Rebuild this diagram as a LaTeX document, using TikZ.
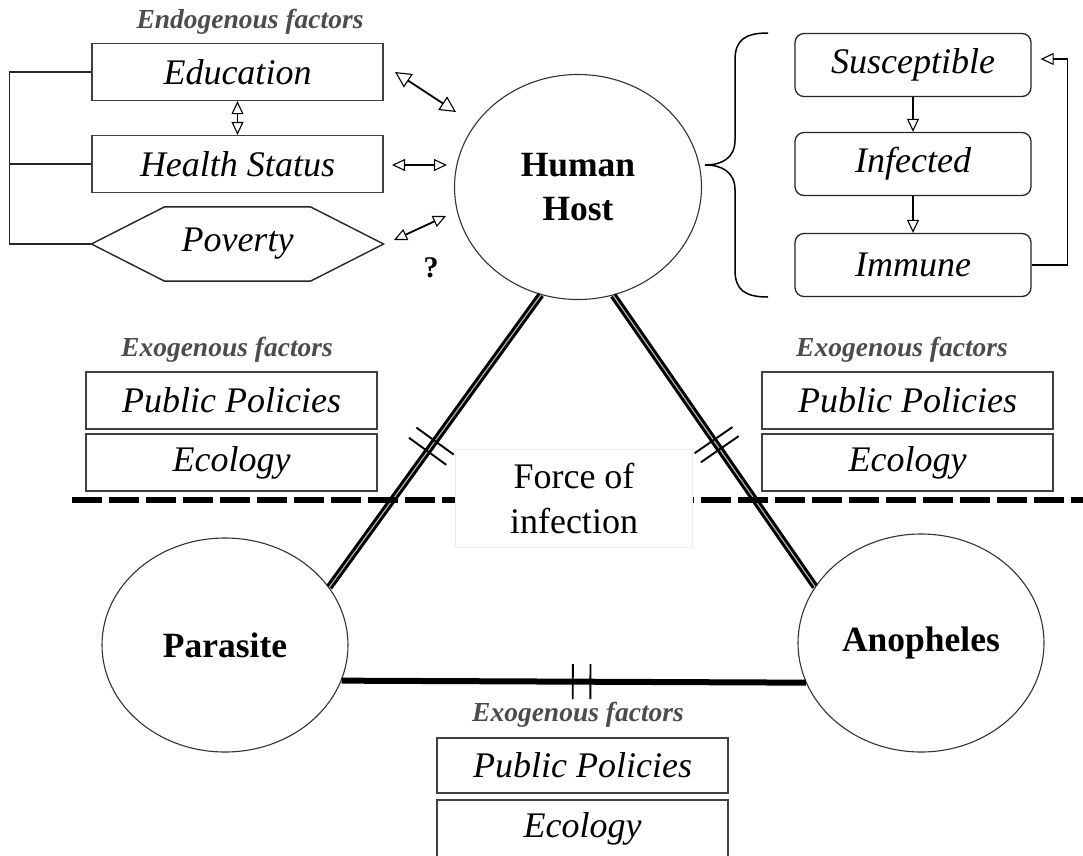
\documentclass[tikz,border=0pt]{standalone}
\usepackage{fontspec}
\setmainfont{Liberation Serif}
\usetikzlibrary{arrows.meta,shapes.geometric,calc}
\tikzset{
  otip/.tip={Triangle[fill=white,length=13pt,width=12pt,line width=1.1pt]},
  btip/.tip={Triangle[fill=white,length=16pt,width=16pt,line width=1.1pt]},
  fbox/.style={draw=black!75, line width=1.2pt, rectangle, minimum width=291pt, minimum height=57pt, inner sep=0pt, font=\fontsize{36}{40}\selectfont\itshape},
  sirbox/.style={draw=black!85, line width=1.3pt, rounded corners=9pt, minimum width=236pt, minimum height=63pt, inner sep=0pt, font=\fontsize{36}{40}\selectfont\itshape},
  lbl/.style={font=\fontsize{27.5}{30}\selectfont\bfseries\itshape, text=black!70},
  agent/.style={ellipse, draw=black!80, line width=1.1pt, inner sep=0pt, font=\fontsize{35.5}{44}\selectfont\bfseries, align=center},
  dblarrow/.style={line width=1.8pt, otip-otip},
  bigarrow/.style={line width=1.8pt, btip-btip},
  sarrow/.style={line width=1.5pt, -otip},
  brk/.style={line width=1.4pt, black!85},
  tri/.style={line width=3pt, double=black!30, double distance=1.2pt},
  tk/.style={line width=1.9pt},
}
\begin{document}
\begin{tikzpicture}[x=1pt,y=-1pt]
\clip (0,0) rectangle (1083,855);
\fill[white] (0,0) rectangle (1083,855);

% endogenous factors
\node[lbl] (endo) at (250,22) {Endogenous factors};
\node[fbox] (edu) at (237.5,72) {Education};
\node[fbox] (hs) at (237.5,164) {Health Status};
\node[fbox, draw=none, minimum height=73pt] (pov) at (237.5,244) {Poverty};
\draw[line width=1.4pt, draw=black!85] (pov.west) -- ([xshift=73pt]pov.north west) -- ([xshift=-73pt]pov.north east) -- (pov.east) -- ([xshift=-73pt]pov.south east) -- ([xshift=73pt]pov.south west) -- cycle;
\draw[brk] (edu.west) -- ++(-82,0) |- (pov.west);
\draw[brk] (hs.west) -- ++(-82,0);
\draw[dblarrow] (edu.south) -- (hs.north);

% human host
\node[agent, minimum width=247pt, minimum height=225pt] (host) at (578,187) {Human\\Host};
\coordinate (e1) at (395,72); \coordinate (e2) at (456,112);
\coordinate (h1) at (392,165); \coordinate (h2) at (447,165);
\coordinate (p1) at (394,240); \coordinate (p2) at (446,216);
\draw[bigarrow] (e1) -- (e2);
\draw[dblarrow] (h1) -- (h2);
\draw[dblarrow] (p1) -- (p2);
\node[font=\fontsize{30}{32}\selectfont\bfseries] (q) at (431,268) {?};

% SIR
\node[sirbox] (sus) at (913,65) {Susceptible};
\node[sirbox] (inf) at (913,164) {Infected};
\node[sirbox] (imm) at (913,265) {Immune};
\draw[sarrow] (sus) -- (inf);
\draw[sarrow] (inf) -- (imm);
\draw[sarrow] (imm.east) -- ++(36,0) |- ([xshift=9pt,yshift=6pt]sus.east);
\draw[line width=1.5pt] (768,33) .. controls (745,33) and (735,40) .. (735,60) -- (735,140) .. controls (735,158) and (722,165) .. (705,165) .. controls (722,165) and (735,172) .. (735,190) -- (735,270) .. controls (735,290) and (745,297) .. (768,297);

% parasite / anopheles
\node[agent, minimum width=246pt, minimum height=214pt] (par) at (225,645) {Parasite};
\node[agent, minimum width=246pt, minimum height=218pt] (ano) at (921,643) {Anopheles};

% triangle
\draw[tri] (host.-109.9) -- coordinate[pos=.50](lt1) coordinate[pos=.535](lt2) (par.29);
\draw[tri] (host.-72.5) -- coordinate[pos=.497](rt1) coordinate[pos=.528](rt2) (ano.152.4);
\draw[line width=6pt] (par.-17.8) -- coordinate[pos=.498](bt1) coordinate[pos=.536](bt2) (ano.199);
\draw[tk] ($(lt1)!23pt!90:(par.29)$) -- ($(lt1)!23pt!-90:(par.29)$);
\draw[tk] ($(lt2)!23pt!90:(par.29)$) -- ($(lt2)!23pt!-90:(par.29)$);
\draw[tk] ($(rt1)!23pt!90:(ano.152.4)$) -- ($(rt1)!23pt!-90:(ano.152.4)$);
\draw[tk] ($(rt2)!23pt!90:(ano.152.4)$) -- ($(rt2)!23pt!-90:(ano.152.4)$);
\draw[tk] ($(bt1)!17.5pt!90:(ano.199)$) -- ($(bt1)!17.5pt!-90:(ano.199)$);
\draw[tk] ($(bt2)!17.5pt!90:(ano.199)$) -- ($(bt2)!17.5pt!-90:(ano.199)$);

% dashed line and force of infection
\draw[line width=6pt, dash pattern=on 30pt off 7pt] (72,500) -- (1083,500);
\node[draw=black!8, fill=white, minimum width=237pt, minimum height=98pt, align=center, font=\fontsize{36}{45}\selectfont] (foi) at (574,498) {Force of\\infection};

% exogenous factors
\node[lbl] (exl) at (227,350) {Exogenous factors};
\node[fbox] (ppl) at (231.5,400.5) {Public Policies};
\node[fbox] (ecl) at (231.5,462.5) {Ecology};
\node[lbl] (exr) at (902,350) {Exogenous factors};
\node[fbox] (ppr) at (907.5,400.5) {Public Policies};
\node[fbox] (ecr) at (907.5,462.5) {Ecology};
\node[lbl] (exb) at (578,715) {Exogenous factors};
\node[fbox, minimum height=55pt] (ppb) at (582.5,765.5) {Public Policies};
\node[fbox, minimum height=58pt] (ecb) at (582.5,829) {Ecology};
\end{tikzpicture}
\end{document}
